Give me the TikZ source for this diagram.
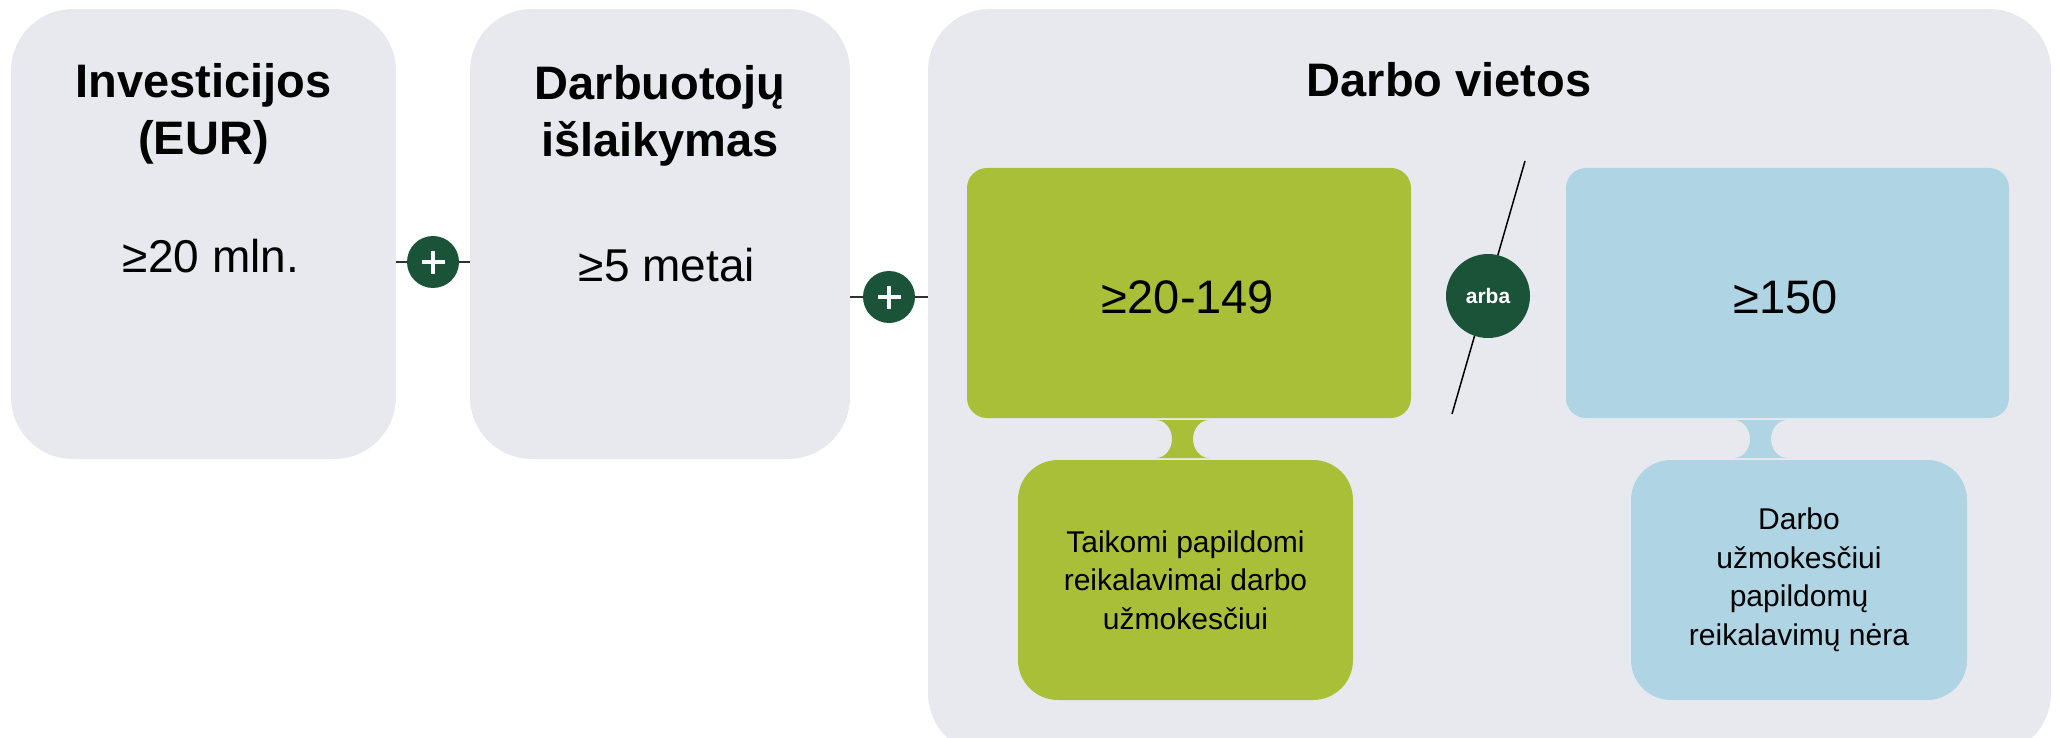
\documentclass[tikz,border=0pt]{standalone}
\usepackage{fontspec}
\setmainfont{Liberation Sans}
\definecolor{boxgray}{HTML}{E8E9EE}
\definecolor{limeg}{HTML}{A9BF38}
\definecolor{skyb}{HTML}{AFD4E4}
\definecolor{dgreen}{HTML}{1B5339}
\definecolor{linegray}{HTML}{303030}
\begin{document}
\begin{tikzpicture}[x=1pt,y=1pt,
  panel/.style={fill=boxgray, rounded corners=62pt, inner sep=0pt, draw=none},
  limebox/.style={fill=limeg, rounded corners=20pt, inner sep=0pt},
  skybox/.style={fill=skyb, rounded corners=20pt, inner sep=0pt},
  limesub/.style={fill=limeg, rounded corners=40pt, inner sep=0pt},
  skysub/.style={fill=skyb, rounded corners=40pt, inner sep=0pt},
  headtxt/.style={anchor=base, inner sep=0pt, font=\fontsize{47}{57}\selectfont\bfseries},
  valtxt/.style={anchor=base, inner sep=0pt, font=\fontsize{46}{55}\selectfont},
  subtxt/.style={align=center, inner sep=0pt, font=\fontsize{30}{38.5}\selectfont},
  conn/.style={draw=linegray, line width=1.5pt},
  plusnode/.style={circle, fill=dgreen, minimum size=52pt, inner sep=0pt,
    path picture={\draw[white, line width=4.5pt]
      (path picture bounding box.center) ++(-11.5,0) -- ++(23,0)
      (path picture bounding box.center) ++(0,-11.5) -- ++(0,23);}},
  ornode/.style={circle, fill=dgreen, minimum size=84pt, inner sep=0pt, text=white,
    font=\fontsize{21}{25}\selectfont\bfseries}
]
\useasboundingbox (0,0) rectangle (2060,-738);
\begin{scope}
\clip (0,0) rectangle (2060,-738);

% panels
\node[panel, minimum width=385pt, minimum height=450pt] (box1) at (203.5,-234) {};
\node[panel, minimum width=380pt, minimum height=450pt] (box2) at (660,-234) {};
\node[panel, minimum width=1123pt, minimum height=746pt] (box3) at (1489.5,-382) {};

% panel texts
\node[headtxt] (t1a) at (203.5,-98) {Investicijos};
\node[headtxt] (t1b) at (203.5,-155) {(EUR)};
\node[valtxt] (v1) at (211,-272) {≥20 mln.};
\node[headtxt] (t2a) at (660,-100) {Darbuotojų};
\node[headtxt] (t2b) at (660,-157) {išlaikymas};
\node[valtxt] (v2) at (667,-281) {≥5 metai};
\node[headtxt] (t3) at (1449,-97) {Darbo vietos};

% inner boxes
\node[limebox, minimum width=444pt, minimum height=250pt] (gbox) at (1189,-293) {};
\node[skybox, minimum width=443pt, minimum height=250pt] (bbox) at (1787.5,-293) {};
\node[limesub, minimum width=335pt, minimum height=240pt] (gsub) at (1185.5,-580) {};
\node[skysub, minimum width=336pt, minimum height=240pt] (bsub) at (1799,-580) {};

\node[valtxt, font=\fontsize{47}{56}\selectfont] (g1) at (1188,-313) {≥20-149};
\node[valtxt, font=\fontsize{47}{56}\selectfont] (b1) at (1786,-313) {≥150};

\node[subtxt] (gtxt) at (gsub.center) {Taikomi papildomi\\reikalavimai darbo\\užmokesčiui};
\node[subtxt] (btxt) at (bsub.center) {Darbo\\užmokesčiui\\papildomų\\reikalavimų nėra};

% hourglass links
\fill[limeg] (1156,-420) -- (1209,-420)
  arc[start angle=90, end angle=270, x radius=16, y radius=19]
  -- (1156,-458)
  arc[start angle=-90, end angle=90, x radius=16, y radius=19] -- cycle;
\fill[skyb] (1734,-420) -- (1787,-420)
  arc[start angle=90, end angle=270, x radius=16, y radius=19]
  -- (1734,-458)
  arc[start angle=-90, end angle=90, x radius=16, y radius=19] -- cycle;

% plus connectors
\coordinate (p1) at (433,-262);
\coordinate (p2) at (889,-297);
\draw[conn] (p1 -| box1.east) -- (p1 -| box2.west);
\draw[conn] (p2 -| box2.east) -- (p2 -| box3.west);
\node[plusnode] (plus1) at (p1) {};
\node[plusnode] (plus2) at (p2) {};

% arba
\coordinate (a1) at (1525,-161);
\coordinate (a2) at (1452,-414);
\draw[draw=black, line width=1.5pt] (a1) -- (a2);
\node[ornode] (arba) at (1488,-296) {arba};
\end{scope}
\end{tikzpicture}
\end{document}
